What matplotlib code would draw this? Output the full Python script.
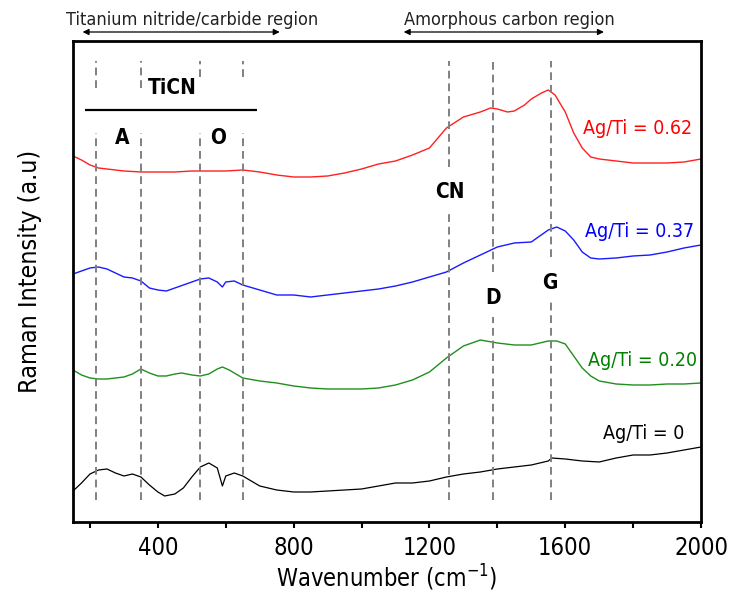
import matplotlib
matplotlib.use("Agg")
import matplotlib.pyplot as plt

plt.rcParams['font.family'] = ['DejaVu Sans']
plt.rcParams['font.stretch'] = 'condensed'

# Raman spectra (stacked, a.u.)
wn_062 = [150, 175, 200, 225, 250, 300, 350, 400, 450, 500, 550, 600, 650, 700, 750, 800,
          850, 900, 950, 1000, 1050, 1100, 1150, 1200, 1250, 1300, 1350, 1380, 1400, 1430,
          1450, 1480, 1500, 1530, 1550, 1570, 1600, 1625, 1650, 1675, 1700, 1750, 1800,
          1850, 1900, 1950, 2000]
int_062 = [366, 362, 357, 354, 353, 351, 350, 350, 350, 351, 351, 351, 352, 350, 347, 345,
           345, 346, 349, 353, 358, 361, 367, 374, 394, 405, 410, 414, 413, 410,
           411, 417, 423, 429, 432, 427, 410, 389, 374, 365, 363, 361, 359,
           359, 359, 360, 363]

wn_037 = [150, 175, 200, 225, 250, 275, 300, 325, 350, 375, 400, 425, 450, 475, 500, 525,
          550, 575, 590, 600, 625, 650, 700, 750, 800, 850, 900, 950, 1000, 1050, 1100,
          1150, 1200, 1250, 1300, 1350, 1400, 1450, 1500, 1550, 1575, 1600, 1625, 1650,
          1675, 1700, 1750, 1800, 1850, 1900, 1950, 2000]
int_037 = [248, 251, 254, 255, 253, 249, 245, 244, 241, 234, 232, 231, 234, 237, 240, 243,
           244, 240, 235, 240, 241, 237, 232, 227, 227, 225, 227, 229, 231, 233, 236,
           240, 245, 250, 259, 267, 275, 279, 280, 292, 295, 291, 282, 270,
           264, 263, 264, 266, 267, 270, 274, 277]

wn_020 = [150, 175, 200, 225, 250, 275, 300, 325, 350, 375, 400, 425, 450, 470, 500, 525,
          550, 575, 590, 610, 650, 700, 750, 800, 850, 900, 950, 1000, 1050, 1100, 1150,
          1200, 1250, 1300, 1350, 1400, 1450, 1500, 1550, 1575, 1600, 1625, 1650, 1675,
          1700, 1750, 1800, 1850, 1900, 1950, 2000]
int_020 = [152, 147, 144, 143, 143, 144, 145, 148, 153, 149, 146, 146, 148, 149, 147, 146,
           148, 153, 155, 152, 144, 141, 139, 136, 134, 133, 133, 133, 134, 137, 142,
           150, 164, 176, 182, 179, 177, 177, 181, 181, 178, 166, 154, 146,
           141, 138, 137, 137, 138, 138, 139]

wn_0 = [150, 175, 200, 225, 250, 275, 300, 325, 350, 375, 400, 420, 450, 475, 500, 525,
        550, 575, 590, 600, 625, 650, 700, 750, 800, 850, 900, 950, 1000, 1050, 1100,
        1150, 1200, 1250, 1300, 1350, 1400, 1450, 1500, 1550, 1560, 1600, 1650, 1700,
        1750, 1800, 1850, 1900, 1950, 2000]
int_0 = [31, 39, 48, 52, 53, 49, 46, 48, 45, 37, 30, 26, 28, 34, 45, 55,
         59, 54, 36, 46, 49, 46, 36, 32, 30, 30, 31, 32, 33, 36, 39,
         39, 41, 45, 48, 50, 53, 55, 57, 61, 64, 63, 61, 60,
         64, 67, 67, 69, 72, 75]

# band positions (cm-1)
ticn_bands = [219, 350, 523, 650]
carbon_bands = [1258, 1386, 1558]

fig = plt.figure(figsize=(7.31, 5.95), dpi=100)
ax = fig.add_axes([0.0999, 0.1227, 0.8591, 0.8084])

ax.plot(wn_062, int_062, color='#ff2020', lw=1.0)
ax.plot(wn_037, int_037, color='#1a1aff', lw=1.0)
ax.plot(wn_020, int_020, color='#1f8f1f', lw=1.0)
ax.plot(wn_0, int_0, color='black', lw=0.9)

dash = dict(color='#808080', lw=1.4, ls=(0, (4, 2.5)))
# TiCN band markers (broken around labels)
ax.vlines(ticn_bands[:2], 434, 461, **dash)
ax.vlines(ticn_bands[2:], 445, 461, **dash)
ax.vlines(ticn_bands, 22, 389, **dash)
# carbon band markers
ax.vlines(carbon_bands[0], 355, 461, **dash)
ax.vlines(carbon_bands[0], 22, 310, **dash)
ax.vlines(carbon_bands[1], 250, 461, **dash)
ax.vlines(carbon_bands[1], 22, 205, **dash)
ax.vlines(carbon_bands[2], 265, 461, **dash)
ax.vlines(carbon_bands[2], 22, 220, **dash)

bold = dict(fontsize=15, fontweight='bold', ha='center', va='center')
ax.text(443, 434, 'TiCN', **bold)
ax.hlines(412, 185, 693, color='black', lw=1.6)
ax.text(294, 384, 'A', **bold)
ax.text(578, 384, 'O', **bold)
ax.text(1261, 330, 'CN', **bold)
ax.text(1388, 224, 'D', **bold)
ax.text(1554, 239, 'G', **bold)

lab = dict(fontsize=14, ha='center', va='center')
ax.text(1812, 393, 'Ag/Ti = 0.62', color='#ff0000', **lab)
ax.text(1818, 290, 'Ag/Ti = 0.37', color='#0000ff', **lab)
ax.text(1827, 161, 'Ag/Ti = 0.20', color='#008000', **lab)
ax.text(1832, 88, 'Ag/Ti = 0', color='black', **lab)

# region arrows above the frame
arr = dict(arrowstyle='<|-|>', color='black', lw=0.9, mutation_scale=9)
ax.annotate('', xy=(170, 490), xytext=(767, 490), arrowprops=arr, annotation_clip=False)
ax.annotate('', xy=(1116, 490), xytext=(1722, 490), arrowprops=arr, annotation_clip=False)
ax.text(501, 502, 'Titanium nitride/carbide region', fontsize=13, ha='center', va='center',
        color='#222222', clip_on=False)
ax.text(1434, 502, 'Amorphous carbon region', fontsize=13, ha='center', va='center',
        color='#222222', clip_on=False)

ax.set_xlim(150, 2000)
ax.set_ylim(0, 481)
ax.set_xticks([400, 800, 1200, 1600, 2000])
ax.set_xticks([200, 600, 1000, 1400, 1800], minor=True)
ax.set_yticks([])
ax.tick_params(axis='x', which='both', direction='out', length=4, width=1.5, labelsize=17, pad=6)
for s in ax.spines.values():
    s.set_linewidth(2)

ax.set_xlabel('Wavenumber (cm$^{-1}$)', fontsize=17, labelpad=2)
ax.set_ylabel('Raman Intensity (a.u)', fontsize=18)
ax.yaxis.set_label_coords(-0.05, 0.522)

fig.savefig('out.png', dpi=100)
